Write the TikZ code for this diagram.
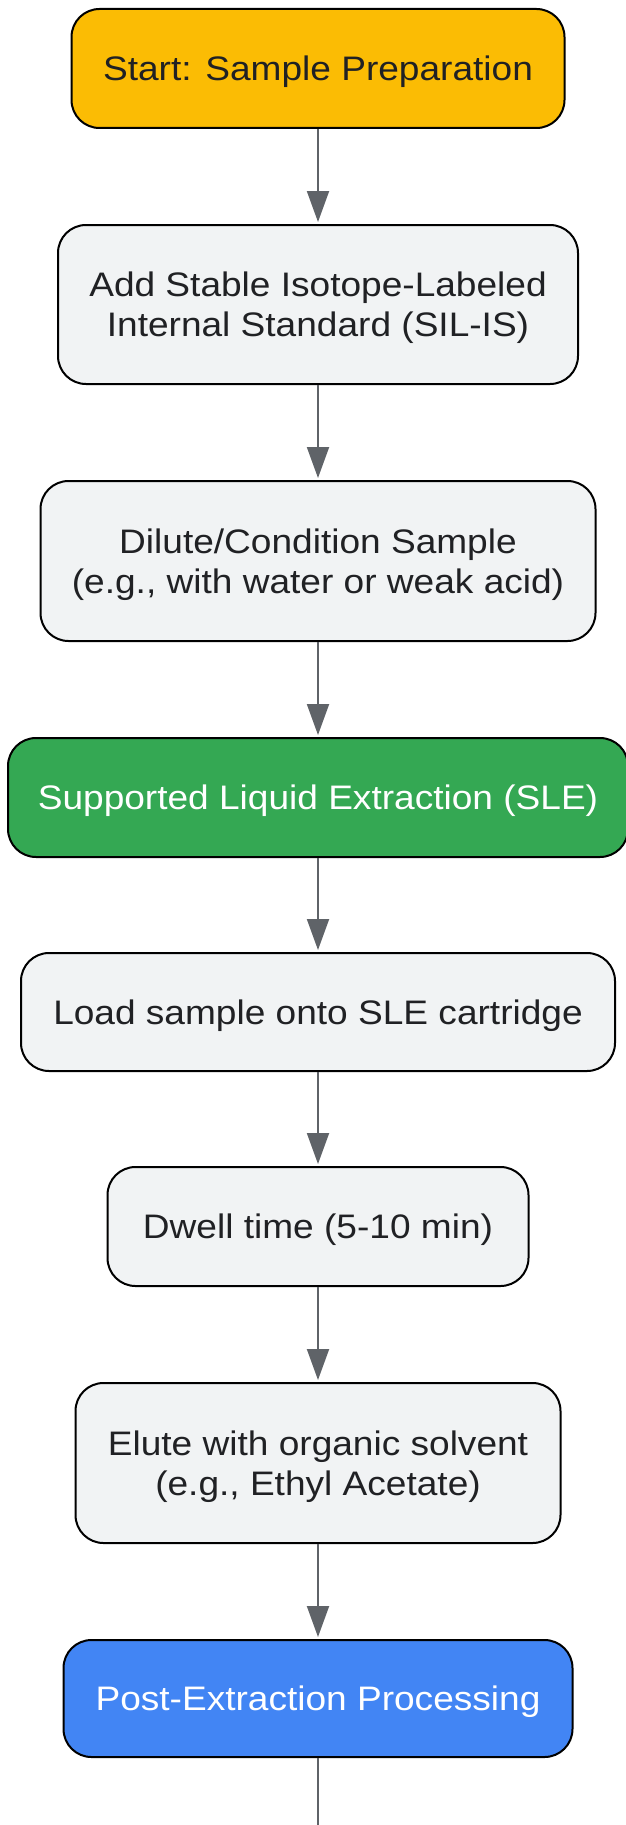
\documentclass[tikz,border=0pt]{standalone}
\usepackage{fontspec}
\setmainfont{Liberation Sans}[FakeStretch=1.09]
\usetikzlibrary{arrows.meta,calc}
\definecolor{cyellow}{HTML}{FBBC04}
\definecolor{cgreen}{HTML}{34A853}
\definecolor{cblue}{HTML}{4285F4}
\definecolor{cgray}{HTML}{F1F3F4}
\definecolor{carrow}{HTML}{5F6368}
\definecolor{ctext}{HTML}{202124}
\tikzset{
  box/.style={draw=black, line width=2pt, rounded corners=28pt,
    inner sep=0pt, fill=cgray},
  txt/.style={inner sep=0pt, anchor=base, font=\fontsize{34}{40}\selectfont, text=ctext},
  wtxt/.style={txt, text=white},
  flow/.style={draw=carrow, line width=2pt,
    -{Triangle[length=31pt,width=22pt]}, shorten >=2pt}
}
\begin{document}
\begin{tikzpicture}[x=1pt,y=-1pt]
\useasboundingbox (0,0) rectangle (625,1825);
% boxes
\node[box, fill=cyellow, minimum width=493pt, minimum height=119pt] (n1) at (318,68.5) {};
\node[box, minimum width=520pt, minimum height=159pt] (n2) at (318,304.5) {};
\node[box, minimum width=555pt, minimum height=160pt] (n3) at (318,561) {};
\node[box, fill=cgreen, minimum width=620pt, minimum height=119pt] (n4) at (318,797.5) {};
\node[box, minimum width=594pt, minimum height=118pt] (n5) at (318,1012) {};
\node[box, minimum width=421pt, minimum height=119pt] (n6) at (318,1226.5) {};
\node[box, minimum width=485pt, minimum height=160pt] (n7) at (318,1463) {};
\node[box, fill=cblue, minimum width=509pt, minimum height=117pt] (n8) at (318,1698.5) {};
% texts
\node[txt] (t1) at ($(n1.center)+(0,12.2)$) {Start: Sample Preparation};
\node[txt] (t2a) at ($(n2.center)+(0,-7.8)$) {Add Stable Isotope-Labeled};
\node[txt] (t2b) at ($(n2.center)+(0,32.2)$) {Internal Standard (SIL-IS)};
\node[txt] (t3a) at ($(n3.center)+(0,-7.8)$) {Dilute/Condition Sample};
\node[txt] (t3b) at ($(n3.center)+(0,32.2)$) {(e.g., with water or weak acid)};
\node[wtxt] (t4) at ($(n4.center)+(0,12.2)$) {Supported Liquid Extraction (SLE)};
\node[txt] (t5) at ($(n5.center)+(0,12.2)$) {Load sample onto SLE cartridge};
\node[txt] (t6) at ($(n6.center)+(0,12.2)$) {Dwell time (5-10 min)};
\node[txt] (t7a) at ($(n7.center)+(0,-7.8)$) {Elute with organic solvent};
\node[txt] (t7b) at ($(n7.center)+(0,32.2)$) {(e.g., Ethyl Acetate)};
\node[wtxt] (t8) at ($(n8.center)+(0,12.2)$) {Post-Extraction Processing};
% connectors
\coordinate (end) at (318,1856);
\draw[flow] (n1) -- (n2);
\draw[flow] (n2) -- (n3);
\draw[flow] (n3) -- (n4);
\draw[flow] (n4) -- (n5);
\draw[flow] (n5) -- (n6);
\draw[flow] (n6) -- (n7);
\draw[flow] (n7) -- (n8);
\draw[flow, shorten >=0pt] (n8) -- (end);
\end{tikzpicture}
\end{document}
